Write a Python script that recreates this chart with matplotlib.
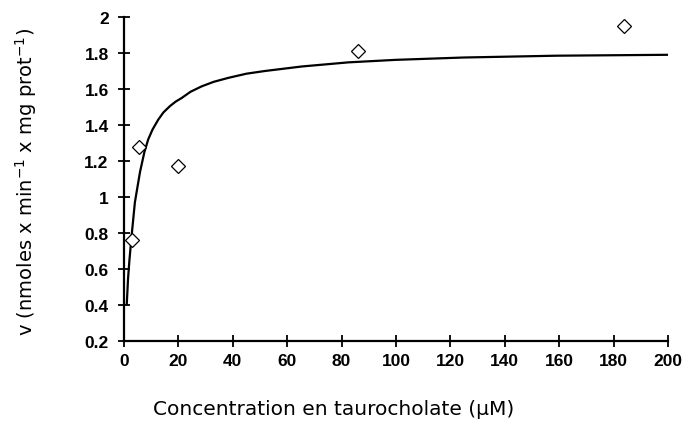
import matplotlib
matplotlib.use("Agg")
import matplotlib.pyplot as plt

# Measured data points (taurocholate concentration in uM, v)
conc_points = [2.8, 5.5, 20, 86, 184]
v_points = [0.76, 1.28, 1.17, 1.81, 1.95]

# Fitted curve
curve_x = [1.0, 1.5, 2.0, 2.8, 4.0, 5.0, 5.9, 7.5, 8.9, 10.5, 12.6, 14.5, 16.9,
           19.0, 21.2, 24.5, 28.6, 33.0, 38.4, 45.0, 51.8, 65.3, 82.5, 100, 125,
           159, 200]
curve_y = [0.40, 0.55, 0.65, 0.785, 0.97, 1.06, 1.14, 1.25, 1.32, 1.375, 1.43,
           1.47, 1.505, 1.53, 1.55, 1.585, 1.615, 1.64, 1.662, 1.685, 1.70,
           1.725, 1.748, 1.762, 1.775, 1.785, 1.79]

xticks = [0, 20, 40, 60, 80, 100, 120, 140, 160, 180, 200]
yticks = [0.2, 0.4, 0.6, 0.8, 1.0, 1.2, 1.4, 1.6, 1.8, 2.0]
ytick_labels = ["0.2", "0.4", "0.6", "0.8", "1", "1.2", "1.4", "1.6", "1.8", "2"]

fig = plt.figure(figsize=(6.94, 4.31), dpi=100)
ax = fig.add_axes([124 / 694, 1 - 342 / 431, (668 - 124) / 694, (342 - 18) / 431])

ax.plot(curve_x, curve_y, color="black", lw=1.6, solid_capstyle="butt",
        solid_joinstyle="round", clip_on=False)
ax.plot(conc_points, v_points, linestyle="none", marker="D", markersize=7,
        markerfacecolor="white", markeredgecolor="black", markeredgewidth=0.9,
        clip_on=False)

ax.set_xlim(0, 200)
ax.set_ylim(0.2, 2.0)
ax.set_xticks(xticks)
ax.set_yticks(yticks)
ax.set_yticklabels(ytick_labels)

for side in ("top", "right"):
    ax.spines[side].set_visible(False)
for side in ("left", "bottom"):
    ax.spines[side].set_linewidth(1.6)

ax.tick_params(axis="both", direction="inout", length=8, width=1.3, colors="black")
ax.tick_params(axis="x", pad=5)
ax.tick_params(axis="y", pad=7)
for lab in ax.get_xticklabels() + ax.get_yticklabels():
    lab.set_fontfamily("Liberation Sans")
    lab.set_fontweight("bold")
    lab.set_fontsize(12.5)

fig.text(334 / 694, 1 - 410 / 431, "Concentration en taurocholate (µM)",
         ha="center", va="center", fontsize=14.5, family="DejaVu Sans",
         color="black")
fig.text(26 / 694, 1 - 182 / 431, r"v (nmoles x min$^{-1}$ x mg prot$^{-1}$)",
         ha="center", va="center", rotation=90, fontsize=14, family="DejaVu Sans",
         color="black")

fig.savefig("out.png", dpi=100)
